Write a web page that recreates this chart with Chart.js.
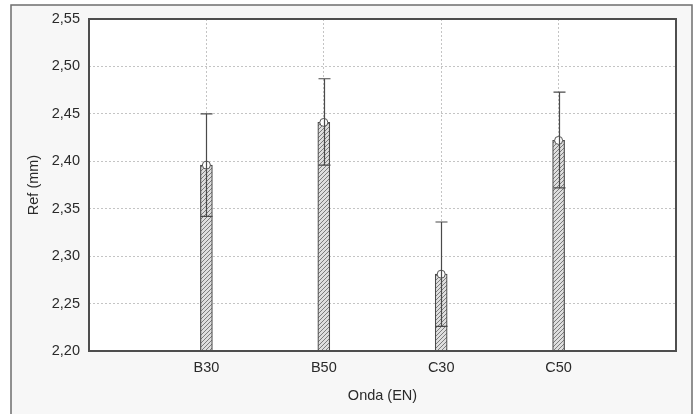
<!DOCTYPE html>
<html>
<head>
<meta charset="utf-8">
<title>Ref (mm) por Onda</title>
<script src="https://cdn.jsdelivr.net/npm/chart.js@4.4.1/dist/chart.umd.min.js"></script>
<style>
  html, body { margin: 0; padding: 0; background: #ffffff; }
  #wrap { width: 698px; height: 414px; }
</style>
</head>
<body>
<div id="wrap"><canvas id="chart" width="698" height="414"></canvas></div>
<script>
// Mean Ref (mm) by wave type, with error bars
const categories = ['B30', 'B50', 'C30', 'C50'];
const means = [2.396, 2.441, 2.281, 2.422];
const upper = [2.450, 2.487, 2.336, 2.473];
const lower = [2.342, 2.396, 2.226, 2.372];

const yMin = 2.20;
const yMax = 2.55;
const yStep = 0.05;

// empty slot on each side, like the original axis
const labels = ['', ...categories, ''];
const pad = arr => [null, ...arr, null];

function hatch(){
  const s = 4;
  const c = document.createElement('canvas');
  c.width = s; c.height = s;
  const g = c.getContext('2d');
  g.fillStyle = '#dedede';
  g.fillRect(0, 0, s, s);
  g.strokeStyle = '#7c7c7c';
  g.lineWidth = 1;
  g.beginPath();
  g.moveTo(0, s); g.lineTo(s, 0);
  g.moveTo(-1, 1); g.lineTo(1, -1);
  g.moveTo(s - 1, s + 1); g.lineTo(s + 1, s - 1);
  g.stroke();
  return g.createPattern(c, 'repeat');
}

const framePlugin = {
  id: 'frame',
  beforeDraw(chart){
    const ctx = chart.ctx;
    const a = chart.chartArea;
    ctx.save();
    ctx.fillStyle = '#f7f7f7';
    ctx.fillRect(11, 5, 681, 420);
    ctx.strokeStyle = '#6e6e6e';
    ctx.lineWidth = 1.5;
    ctx.strokeRect(11, 5, 681, 420);
    ctx.fillStyle = '#ffffff';
    ctx.fillRect(a.left, a.top, a.right - a.left, a.bottom - a.top);
    ctx.restore();
  },
  afterDraw(chart){
    const ctx = chart.ctx;
    const a = chart.chartArea;
    ctx.save();
    ctx.strokeStyle = '#4e4e4e';
    ctx.lineWidth = 2;
    ctx.strokeRect(a.left, a.top, a.right - a.left, a.bottom - a.top);
    ctx.restore();
  }
};

// whiskers: line + cap above the mean, line + bar inside below it
const errorPlugin = {
  id: 'errbars',
  afterDatasetDraw(chart, args){
    if (args.index !== 0) return;
    const ctx = chart.ctx;
    const x = chart.scales.x;
    const y = chart.scales.y;
    const half = 6;
    ctx.save();
    ctx.strokeStyle = '#4a4a4a';
    ctx.lineWidth = 1.2;
    categories.forEach((c, i) => {
      const px = Math.round(x.getPixelForValue(i + 1)) + 0.5;
      const pTop = y.getPixelForValue(upper[i]);
      const pLow = y.getPixelForValue(lower[i]);
      ctx.beginPath();
      ctx.moveTo(px, pTop);
      ctx.lineTo(px, pLow);
      ctx.moveTo(px - half, pTop);
      ctx.lineTo(px + half, pTop);
      ctx.moveTo(px - half, pLow);
      ctx.lineTo(px + half, pLow);
      ctx.stroke();
    });
    ctx.restore();
  }
};

const ctx = document.getElementById('chart');
new Chart(ctx, {
  type: 'bar',
  data: {
    labels,
    datasets: [
      {
        type: 'line',
        label: 'Média',
        data: pad(means),
        showLine: false,
        pointRadius: 4,
        pointBackgroundColor: '#ffffff',
        pointBorderColor: '#555555',
        pointBorderWidth: 1,
        order: 0
      },
      {
        label: 'Ref (mm)',
        data: pad(means),
        backgroundColor: hatch(),
        borderColor: '#4a4a4a',
        borderWidth: 1.2,
        barThickness: 12,
        base: yMin,
        order: 1
      }
    ]
  },
  options: {
    responsive: false,
    animation: false,
    layout: { padding: { left: 0, top: 19, right: 22, bottom: 0 } },
    plugins: {
      legend: { display: false },
      tooltip: { enabled: false }
    },
    scales: {
      x: {
        offset: false,
        grid: { offset: false, color: '#c4c4c4', drawTicks: false },
        border: { display: false, dash: [2, 2] },
        ticks: { padding: 8, color: '#2a2a2a', font: { size: 14.5 } },
        title: { display: true, text: 'Onda (EN)', color: '#2a2a2a', font: { size: 14.5 }, padding: { top: 0, bottom: 9 } },
        afterFit(scale){ scale.height = 63; }
      },
      y: {
        min: yMin,
        max: yMax,
        grid: { color: '#c4c4c4', drawTicks: false },
        border: { display: false, dash: [2, 2] },
        ticks: {
          stepSize: yStep,
          padding: 9,
          color: '#2a2a2a',
          font: { size: 14.5 },
          callback: v => v.toFixed(2).replace('.', ',')
        },
        title: { display: true, text: 'Ref (mm)', color: '#2a2a2a', font: { size: 14.5 }, padding: { top: 25, bottom: 0 } },
        afterFit(scale){ scale.width = 89; }
      }
    }
  },
  plugins: [framePlugin, errorPlugin]
});
</script>
</body>
</html>
